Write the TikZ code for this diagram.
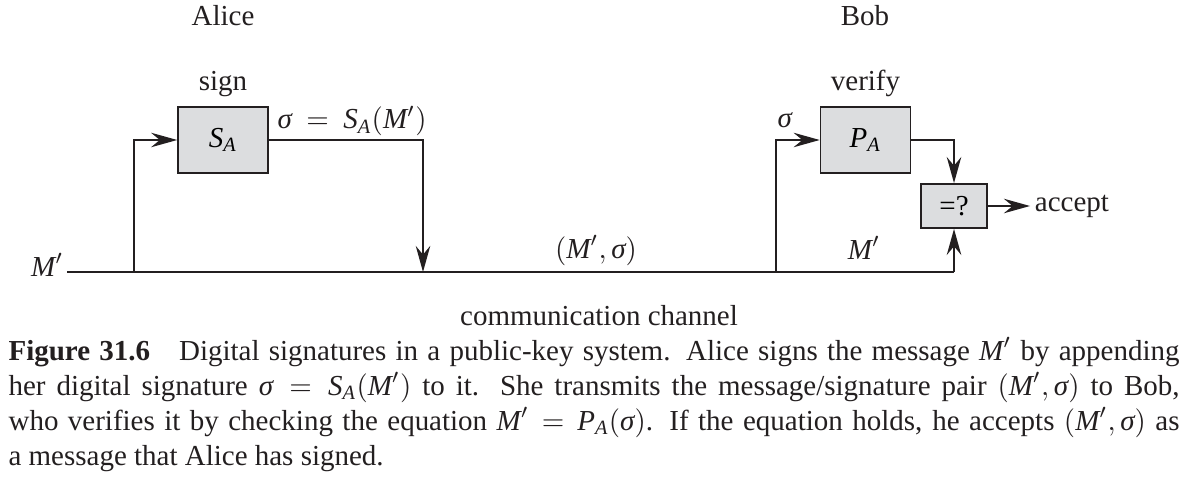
\documentclass[tikz,border=0pt]{standalone}
\usepackage{amsmath}
\usepackage{fontspec}
\setmainfont{Liberation Serif}
\usepackage{xcolor}
\usetikzlibrary{arrows.meta,positioning}
\definecolor{ink}{HTML}{231F20}
\definecolor{boxfill}{HTML}{DCDDDF}
\newcommand{\tv}[1]{\textit{#1}}
\tikzset{
  funcBox/.style={draw=ink, fill=boxfill, line width=0.6pt, minimum width=31pt, minimum height=22.8pt, inner sep=0pt},
  wire/.style={draw=ink, line width=0.6pt},
  flow/.style={wire, -{Stealth[length=9pt, width=5pt, inset=3pt]}},
  partyLabel/.style={text=ink, inner sep=0pt},
  wireLabel/.style={text=ink, inner sep=0pt}
}

\begin{document}
\begin{tikzpicture}[x=0.345pt, y=-0.345pt]
  \useasboundingbox (0,0) rectangle (1189,480);

  \node[partyLabel, anchor=base] (alice) at (223,26) {Alice};
  \node[partyLabel, anchor=base] (bob) at (865,26) {Bob};

  \node[funcBox] (sa) at (223,140) {$\tv{S}_{\tv{A}}$};
  \node[funcBox] (pa) at (865.5,140) {$\tv{P}_{\tv{A}}$};
  \node[funcBox, minimum width=22.8pt, minimum height=15.2pt] (eq) at (954,206) {=?};
  \node[partyLabel, anchor=base] (signLbl) at (223,91) {sign};
  \node[partyLabel, anchor=base] (verifyLbl) at (865.5,91) {verify};
  \node[wireLabel, anchor=west, inner sep=1.5pt] (accept) at (1030,206) {accept};

  \coordinate (msrc) at (67,272);
  \coordinate (tapA) at (134,272);
  \coordinate (tapB) at (776,272);
  \coordinate (drop) at (423,272);
  \coordinate (mend) at (954,272);

  \draw[wire] (msrc) -- (mend);
  \draw[flow] (tapA) |- (sa.west);
  \draw[flow] (sa.east) -| (drop);
  \draw[flow] (tapB) |- (pa.west);
  \draw[flow] (pa.east) -| (eq.north);
  \draw[flow] (mend) -- (eq.south);
  \draw[flow] (eq.east) -- (accept.west);

  \node[wireLabel, anchor=base east] (msgIn) at (64,276) {$\tv{M}'$};
  \node[wireLabel, anchor=base west] (sigOut) at (277,129) {$\tv{σ} \:=\: \tv{S}_{\tv{A}}(\tv{M}')$};
  \node[wireLabel, anchor=base west] (sigIn) at (777,128) {$\tv{σ}$};
  \node[wireLabel, anchor=base] (pairLbl) at (596,258) {$(\tv{M}',\tv{σ})$};
  \node[wireLabel, anchor=base] (msgB) at (864,259) {$\tv{M}'$};
  \node[wireLabel, anchor=base] (channel) at (599,325) {communication channel};

  \node[text=ink, inner sep=0pt, anchor=north west, text width=404pt, align=justify] (caption) at (8,337)
    {\textbf{Figure 31.6}\quad Digital signatures in a public-key system. Alice signs the message $\tv{M}'$ by appending\linebreak
     her digital signature $\tv{σ} = \tv{S}_{\tv{A}}(\tv{M}')$ to it. She transmits the message/signature pair $(\tv{M}',\tv{σ})$ to Bob,\linebreak
     who verifies it by checking the equation $\tv{M}' = \tv{P}_{\tv{A}}(\tv{σ})$. If the equation holds, he accepts $(\tv{M}',\tv{σ})$ as\linebreak
     a message that Alice has signed.};
\end{tikzpicture}
\end{document}
